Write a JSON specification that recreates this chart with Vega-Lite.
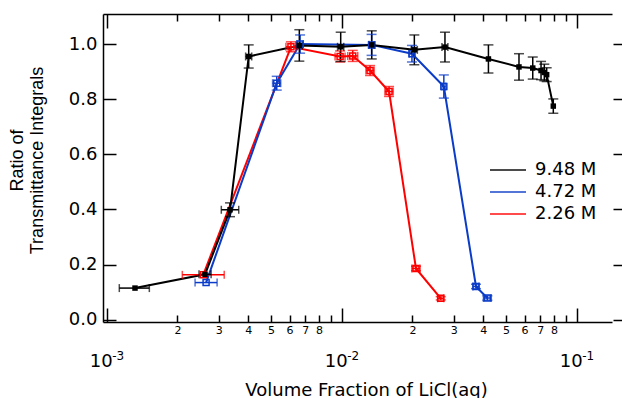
{
  "$schema": "https://vega.github.io/schema/vega-lite/v6.json",
  "width": 509,
  "height": 308,
  "autosize": {"type": "none"},
  "padding": {"left": 103, "top": 14, "right": 10, "bottom": 76},
  "config": {
    "view": {"stroke": null},
    "axis": {"labelFlush": false, "labelOverlap": false, "labelBound": false, "grid": false, "domainColor": "black", "tickColor": "black", "labelColor": "black", "titleColor": "black"}
  },
  "data": {"values": [
    {"s": "2.26 M", "x": 0.002575, "y": 0.163, "xlo": 0.002097, "xhi": 0.003162},
    {"s": "2.26 M", "x": 0.00608, "y": 0.99, "xlo": 0.00579, "xhi": 0.00638, "ylo": 0.972, "yhi": 1.008},
    {"s": "2.26 M", "x": 0.00984, "y": 0.955, "xlo": 0.00937, "xhi": 0.01033, "ylo": 0.935, "yhi": 0.975},
    {"s": "2.26 M", "x": 0.01114, "y": 0.957, "xlo": 0.01061, "xhi": 0.0117, "ylo": 0.937, "yhi": 0.977},
    {"s": "2.26 M", "x": 0.0132, "y": 0.904, "xlo": 0.01268, "xhi": 0.01374, "ylo": 0.886, "yhi": 0.922},
    {"s": "2.26 M", "x": 0.0159, "y": 0.828, "xlo": 0.01527, "xhi": 0.01655, "ylo": 0.81, "yhi": 0.846},
    {"s": "2.26 M", "x": 0.0207, "y": 0.186, "xlo": 0.01988, "xhi": 0.02155, "ylo": 0.178, "yhi": 0.194},
    {"s": "2.26 M", "x": 0.02638, "y": 0.078, "xlo": 0.02559, "xhi": 0.02719, "ylo": 0.072, "yhi": 0.084},
    {"s": "4.72 M", "x": 0.002647, "y": 0.135, "xlo": 0.002376, "xhi": 0.002949},
    {"s": "4.72 M", "x": 0.00529, "y": 0.858, "xlo": 0.00508, "xhi": 0.0055, "ylo": 0.833, "yhi": 0.883},
    {"s": "4.72 M", "x": 0.00665, "y": 1.0, "xlo": 0.00645, "xhi": 0.00686, "ylo": 0.967, "yhi": 1.033},
    {"s": "4.72 M", "x": 0.0134, "y": 0.997, "xlo": 0.0131, "xhi": 0.0137, "ylo": 0.959, "yhi": 1.035},
    {"s": "4.72 M", "x": 0.0199, "y": 0.965, "xlo": 0.0194, "xhi": 0.0204, "ylo": 0.935, "yhi": 0.995},
    {"s": "4.72 M", "x": 0.0272, "y": 0.846, "xlo": 0.0267, "xhi": 0.0277, "ylo": 0.804, "yhi": 0.888},
    {"s": "4.72 M", "x": 0.03727, "y": 0.121, "xlo": 0.03617, "xhi": 0.0384, "ylo": 0.113, "yhi": 0.129},
    {"s": "4.72 M", "x": 0.04166, "y": 0.079, "xlo": 0.04009, "xhi": 0.0433, "ylo": 0.071, "yhi": 0.087},
    {"s": "9.48 M", "x": 0.001319, "y": 0.115, "xlo": 0.001131, "xhi": 0.001518},
    {"s": "9.48 M", "x": 0.00262, "y": 0.165, "xlo": 0.00247, "xhi": 0.00278},
    {"s": "9.48 M", "x": 0.003347, "y": 0.399, "xlo": 0.003073, "xhi": 0.003645, "ylo": 0.374, "yhi": 0.424},
    {"s": "9.48 M", "x": 0.004019, "y": 0.955, "xlo": 0.0039, "xhi": 0.00414, "ylo": 0.913, "yhi": 0.997},
    {"s": "9.48 M", "x": 0.0066, "y": 0.995, "xlo": 0.0064, "xhi": 0.0068, "ylo": 0.938, "yhi": 1.052},
    {"s": "9.48 M", "x": 0.0099, "y": 0.99, "xlo": 0.0096, "xhi": 0.0102, "ylo": 0.937, "yhi": 1.043},
    {"s": "9.48 M", "x": 0.01342, "y": 0.997, "xlo": 0.01302, "xhi": 0.01383, "ylo": 0.946, "yhi": 1.048},
    {"s": "9.48 M", "x": 0.02037, "y": 0.979, "xlo": 0.01977, "xhi": 0.02098, "ylo": 0.925, "yhi": 1.033},
    {"s": "9.48 M", "x": 0.0275, "y": 0.989, "xlo": 0.0267, "xhi": 0.0283, "ylo": 0.935, "yhi": 1.043},
    {"s": "9.48 M", "x": 0.0421, "y": 0.946, "ylo": 0.895, "yhi": 0.997},
    {"s": "9.48 M", "x": 0.0568, "y": 0.917, "ylo": 0.869, "yhi": 0.965},
    {"s": "9.48 M", "x": 0.065, "y": 0.913, "ylo": 0.873, "yhi": 0.953},
    {"s": "9.48 M", "x": 0.0705, "y": 0.904, "ylo": 0.871, "yhi": 0.937},
    {"s": "9.48 M", "x": 0.0728, "y": 0.897, "ylo": 0.867, "yhi": 0.927},
    {"s": "9.48 M", "x": 0.0745, "y": 0.889, "ylo": 0.864, "yhi": 0.914},
    {"s": "9.48 M", "x": 0.0795, "y": 0.775, "ylo": 0.749, "yhi": 0.801}
  ]},
  "layer": [
    {
      "mark": {"type": "point", "opacity": 0},
      "encoding": {
        "x": {"field": "x", "type": "quantitative", "scale": {"type": "log", "domain": [0.000964, 0.14131], "nice": false},
          "axis": {"orient": "top", "values": [0.001,0.002,0.003,0.004,0.005,0.006,0.007,0.008,0.009,0.01,0.02,0.03,0.04,0.05,0.06,0.07,0.08,0.09,0.1],
            "tickSize": {"condition": {"test": "abs(log(datum.value)/LN10 - round(log(datum.value)/LN10)) < 0.001", "value": -14}, "value": -7},
            "tickWidth": 1.5, "domainWidth": 1.5, "labels": false, "title": null}},
        "y": {"field": "y", "type": "quantitative", "scale": {"domain": [-0.008, 1.109], "nice": false, "zero": false},
          "axis": {"orient": "right", "values": [0, 0.2, 0.4, 0.6, 0.8, 1.0], "tickSize": -9, "tickWidth": 1.5, "domain": false, "labels": false, "offset": 10, "title": null}}
      }
    },
    {
      "mark": {"type": "point", "opacity": 0},
      "encoding": {
        "x": {"field": "x", "type": "quantitative", "scale": {"type": "log", "domain": [0.000964, 0.14131], "nice": false},
          "axis": {"orient": "bottom", "values": [0.001, 0.01, 0.1], "domain": false, "ticks": false, "labelExpr": "'10'",
            "labelFont": "DejaVu Sans", "labelFontSize": 18, "labelOffset": -6, "labelPadding": 44, "labelBaseline": "alphabetic", "title": null}},
        "y": {"field": "y", "type": "quantitative", "scale": {"domain": [-0.008, 1.109], "nice": false, "zero": false}, "axis": null}
      }
    },
    {
      "mark": {"type": "point", "opacity": 0},
      "encoding": {
        "x": {"field": "x", "type": "quantitative", "scale": {"type": "log", "domain": [0.000964, 0.14131], "nice": false},
          "axis": {"orient": "bottom", "values": [0.001, 0.01, 0.1], "domain": false, "ticks": false,
            "labelExpr": "datum.value < 0.005 ? '-3' : datum.value < 0.05 ? '-2' : '-1'",
            "labelFont": "DejaVu Sans", "labelFontSize": 12, "labelOffset": 11, "labelPadding": 37, "labelBaseline": "alphabetic", "title": null}},
        "y": {"field": "y", "type": "quantitative", "scale": {"domain": [-0.008, 1.109], "nice": false, "zero": false}, "axis": null}
      }
    },
    {
      "mark": {"type": "line", "strokeWidth": 2},
      "encoding": {
        "x": {"field": "x", "type": "quantitative", "scale": {"type": "log", "domain": [0.000964, 0.14131], "nice": false},
          "axis": {"orient": "bottom", "values": [0.001,0.002,0.003,0.004,0.005,0.006,0.007,0.008,0.009,0.01,0.02,0.03,0.04,0.05,0.06,0.07,0.08,0.09,0.1],
            "tickSize": {"condition": {"test": "abs(log(datum.value)/LN10 - round(log(datum.value)/LN10)) < 0.001", "value": -14}, "value": -7},
            "tickWidth": 1.5, "domainWidth": 1.5, "format": ".0e",
            "labelExpr": "(datum.label[0] == '1' || datum.label[0] == '9') ? '' : datum.label[0]",
            "labelFont": "DejaVu Sans", "labelFontSize": 11, "labelBaseline": "top", "labelPadding": 9,
            "title": "Volume Fraction of LiCl(aq)", "titleFont": "DejaVu Sans", "titleFontSize": 18, "titleFontWeight": "normal",
            "titleX": 263, "titleY": 73, "titleBaseline": "alphabetic", "titleAlign": "center"}},
        "y": {"field": "y", "type": "quantitative", "scale": {"domain": [-0.008, 1.109], "nice": false, "zero": false},
          "axis": {"orient": "left", "values": [0, 0.2, 0.4, 0.6, 0.8, 1.0], "format": ".1f", "tickSize": -13, "tickWidth": 1.5, "domainWidth": 1.5,
            "labelFont": "DejaVu Sans", "labelFontSize": 18, "labelPadding": 19, "labelBaseline": "middle",
            "title": ["Ratio of", "Transmittance Integrals"], "titleFont": "Liberation Sans", "titleFontSize": 18, "titleFontWeight": "normal",
            "titleLineHeight": 20, "titleX": -86, "titleY": 146, "titleBaseline": "middle", "titleAlign": "center", "titleAngle": 270}},
        "color": {"field": "s", "type": "nominal",
          "scale": {"domain": ["9.48 M", "4.72 M", "2.26 M"], "range": ["#000000", "#0b3cc8", "#ff0000"]},
          "legend": {"orient": "none", "legendX": 386, "legendY": 147, "title": null, "symbolType": "stroke", "symbolSize": 1296,
            "symbolStrokeWidth": 2, "labelFont": "DejaVu Sans", "labelFontSize": 18, "labelColor": "black", "labelOffset": 8,
            "clipHeight": 18, "rowPadding": 4, "padding": 0}}
      }
    },
    {
      "transform": [{"filter": "datum.ylo != null"}],
      "mark": {"type": "rule", "strokeWidth": 1.5},
      "encoding": {
        "x": {"field": "x", "type": "quantitative", "scale": {"type": "log", "domain": [0.000964, 0.14131], "nice": false}, "axis": null},
        "y": {"field": "ylo", "type": "quantitative", "scale": {"domain": [-0.008, 1.109], "nice": false, "zero": false}, "axis": null},
        "y2": {"field": "yhi"},
        "color": {"field": "s", "type": "nominal", "scale": {"domain": ["9.48 M", "4.72 M", "2.26 M"], "range": ["#000000", "#0b3cc8", "#ff0000"]}}
      }
    },
    {
      "transform": [{"filter": "datum.ylo != null"}],
      "mark": {"type": "tick", "orient": "horizontal", "size": 10, "thickness": 1.5},
      "encoding": {
        "x": {"field": "x", "type": "quantitative", "scale": {"type": "log", "domain": [0.000964, 0.14131], "nice": false}, "axis": null},
        "y": {"field": "ylo", "type": "quantitative", "scale": {"domain": [-0.008, 1.109], "nice": false, "zero": false}, "axis": null},
        "color": {"field": "s", "type": "nominal", "scale": {"domain": ["9.48 M", "4.72 M", "2.26 M"], "range": ["#000000", "#0b3cc8", "#ff0000"]}}
      }
    },
    {
      "transform": [{"filter": "datum.yhi != null"}],
      "mark": {"type": "tick", "orient": "horizontal", "size": 10, "thickness": 1.5},
      "encoding": {
        "x": {"field": "x", "type": "quantitative", "scale": {"type": "log", "domain": [0.000964, 0.14131], "nice": false}, "axis": null},
        "y": {"field": "yhi", "type": "quantitative", "scale": {"domain": [-0.008, 1.109], "nice": false, "zero": false}, "axis": null},
        "color": {"field": "s", "type": "nominal", "scale": {"domain": ["9.48 M", "4.72 M", "2.26 M"], "range": ["#000000", "#0b3cc8", "#ff0000"]}}
      }
    },
    {
      "transform": [{"filter": "datum.xlo != null"}],
      "mark": {"type": "rule", "strokeWidth": 1.5},
      "encoding": {
        "x": {"field": "xlo", "type": "quantitative", "scale": {"type": "log", "domain": [0.000964, 0.14131], "nice": false}, "axis": null},
        "x2": {"field": "xhi"},
        "y": {"field": "y", "type": "quantitative", "scale": {"domain": [-0.008, 1.109], "nice": false, "zero": false}, "axis": null},
        "color": {"field": "s", "type": "nominal", "scale": {"domain": ["9.48 M", "4.72 M", "2.26 M"], "range": ["#000000", "#0b3cc8", "#ff0000"]}}
      }
    },
    {
      "transform": [{"filter": "datum.xlo != null"}],
      "mark": {"type": "tick", "orient": "vertical", "size": 8, "thickness": 1.5},
      "encoding": {
        "x": {"field": "xlo", "type": "quantitative", "scale": {"type": "log", "domain": [0.000964, 0.14131], "nice": false}, "axis": null},
        "y": {"field": "y", "type": "quantitative", "scale": {"domain": [-0.008, 1.109], "nice": false, "zero": false}, "axis": null},
        "color": {"field": "s", "type": "nominal", "scale": {"domain": ["9.48 M", "4.72 M", "2.26 M"], "range": ["#000000", "#0b3cc8", "#ff0000"]}}
      }
    },
    {
      "transform": [{"filter": "datum.xhi != null"}],
      "mark": {"type": "tick", "orient": "vertical", "size": 8, "thickness": 1.5},
      "encoding": {
        "x": {"field": "xhi", "type": "quantitative", "scale": {"type": "log", "domain": [0.000964, 0.14131], "nice": false}, "axis": null},
        "y": {"field": "y", "type": "quantitative", "scale": {"domain": [-0.008, 1.109], "nice": false, "zero": false}, "axis": null},
        "color": {"field": "s", "type": "nominal", "scale": {"domain": ["9.48 M", "4.72 M", "2.26 M"], "range": ["#000000", "#0b3cc8", "#ff0000"]}}
      }
    },
    {
      "transform": [{"filter": "datum.s != '9.48 M'"}],
      "mark": {"type": "point", "shape": "square", "filled": false, "size": 36, "strokeWidth": 1.5, "opacity": 1},
      "encoding": {
        "x": {"field": "x", "type": "quantitative", "scale": {"type": "log", "domain": [0.000964, 0.14131], "nice": false}, "axis": null},
        "y": {"field": "y", "type": "quantitative", "scale": {"domain": [-0.008, 1.109], "nice": false, "zero": false}, "axis": null},
        "color": {"field": "s", "type": "nominal", "scale": {"domain": ["9.48 M", "4.72 M", "2.26 M"], "range": ["#000000", "#0b3cc8", "#ff0000"]}}
      }
    },
    {
      "transform": [{"filter": "datum.s == '9.48 M'"}],
      "mark": {"type": "point", "shape": "square", "filled": true, "size": 30, "opacity": 1},
      "encoding": {
        "x": {"field": "x", "type": "quantitative", "scale": {"type": "log", "domain": [0.000964, 0.14131], "nice": false}, "axis": null},
        "y": {"field": "y", "type": "quantitative", "scale": {"domain": [-0.008, 1.109], "nice": false, "zero": false}, "axis": null},
        "color": {"field": "s", "type": "nominal", "scale": {"domain": ["9.48 M", "4.72 M", "2.26 M"], "range": ["#000000", "#0b3cc8", "#ff0000"]}}
      }
    }
  ],
  "resolve": {"axis": {"x": "independent", "y": "independent"}}
}
